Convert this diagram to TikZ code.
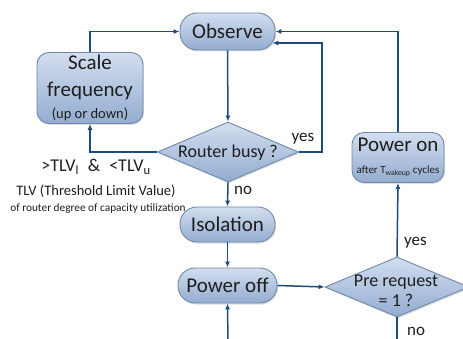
\documentclass[tikz,border=0pt]{standalone}
\usepackage{fontspec}
\setmainfont{Carlito}
\usetikzlibrary{arrows.meta,shapes.geometric,shadows,calc}
\definecolor{lineblue}{HTML}{1F4A80}
\definecolor{boxtop}{HTML}{D3DEEF}
\definecolor{boxbot}{HTML}{93ACD0}
\definecolor{boxedge}{HTML}{6F88AA}
\definecolor{txt}{HTML}{1E1E1E}
\begin{document}
\begin{tikzpicture}[x=1pt,y=-1pt,
  boxbase/.style={draw=boxedge, line width=0.9pt, top color=boxtop, bottom color=boxbot,
     drop shadow={opacity=0.25,shadow xshift=1.2pt,shadow yshift=-1.5pt}, text=txt, inner sep=0pt},
  pill/.style={boxbase, rectangle, rounded corners=17pt, font=\fontsize{21}{24}\selectfont},
  rbox/.style={boxbase, rectangle, rounded corners=12pt},
  dia/.style={boxbase, diamond},
  dtext/.style={text=txt, font=\fontsize{18}{19}\selectfont, inner sep=0pt, align=center},
  lab/.style={text=txt, font=\fontsize{17}{19}\selectfont, inner sep=0pt},
  conn/.style={draw=lineblue, line width=1.5pt, -{Latex[length=6pt,width=5pt]}},
  plain/.style={draw=lineblue, line width=1.5pt}
]
\clip (0,0) rectangle (463,339);
\fill[white] (0,0) rectangle (463,339);

\node[pill, minimum width=95pt, minimum height=37pt] (obs) at (227.5,31.5) {Observe};
\node[rbox, minimum width=106pt, minimum height=71pt, align=center,
      font=\fontsize{21}{27}\selectfont] (sf) at (90,88)
  {Scale\\frequency\\[-5pt]{\fontsize{14.5}{16}\selectfont (up or down)}};
\node[dia, minimum width=141pt, minimum height=60pt] (rb) at (228,152) {};
\node[dtext] (rbt) at (228,153) {Router busy ?};
\node[rbox, minimum width=92pt, minimum height=50pt, align=center,
      font=\fontsize{21}{22}\selectfont] (pon) at (398,157.5)
  {Power on\\{\fontsize{11}{13}\selectfont after T\textsubscript{wakeup} cycles}};
\node[pill, minimum width=95pt, minimum height=35pt] (iso) at (227.5,224.5) {Isolation};
\node[pill, minimum width=99pt, minimum height=35pt] (poff) at (227.5,285.5) {Power off};
\node[dia, minimum width=144pt, minimum height=60pt] (pr) at (397,287) {};
\node[dtext, font=\fontsize{18}{19.5}\selectfont] (prt) at (396,291) {Pre request\\= 1 ?};

\coordinate (c1) at (322,43);
\coordinate (cb1) at (228,345);
\coordinate (cb2) at (397,345);

\draw[conn] (obs.south) -- (rb.north);
\draw[conn] (rb.west) -| (sf.south);
\draw[conn] (sf.north) |- (obs.west);
\draw[conn] (rb.east) -| (c1) -- ([xshift=-3pt]obs.east |- c1);
\draw[conn] (pon.north) |- (obs.east);
\draw[conn] (rb.south) -- (iso.north);
\draw[conn] (iso.south) -- (poff.north);
\draw[conn] (cb1) -- (poff.south);
\draw[conn] (poff.east) -- (pr.west);
\draw[conn] (pr.north) -- (pon.south);
\draw[plain] (pr.south) -- (cb2);

\node[lab] (ly1) at (303,139) {yes};
\node[lab, anchor=west] (ln1) at (234,190) {no};
\node[lab, anchor=west] (ly2) at (404,243) {yes};
\node[lab, anchor=west] (ln2) at (407,331) {no};

\node[text=txt, font=\fontsize{18}{20}\selectfont, inner sep=0pt] (tlv) at (96,167)
  {>TLV\textsubscript{l}\hspace{9pt}\&\hspace{9pt}<TLV\textsubscript{u}};
\node[text=txt, font=\fontsize{14.5}{16}\selectfont, inner sep=0pt] (tlvd) at (96,191) {TLV (Threshold Limit Value)};
\node[text=txt, font=\fontsize{11.3}{13}\selectfont, inner sep=0pt] (tlvr) at (98,209) {of router degree of capacity utilization};
\end{tikzpicture}
\end{document}
